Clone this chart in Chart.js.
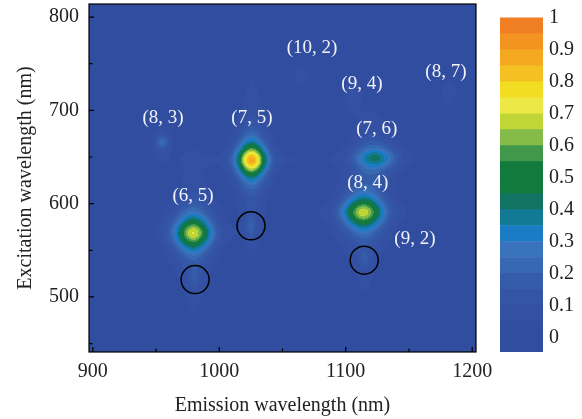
<!DOCTYPE html>
<html>
<head>
<meta charset="utf-8">
<script src="https://cdn.jsdelivr.net/npm/chart.js@4.4.1/dist/chart.umd.min.js"></script>
<style>
  html, body { margin: 0; padding: 0; background: #fff; }
  #wrap { position: relative; width: 582px; height: 419px; }
  #map { position: absolute; left: 0; top: 0; }
  #bar { position: absolute; left: 490px; top: 0; }
</style>
</head>
<body>
<div id="wrap">
  <canvas id="map" width="582" height="419"></canvas>
  <canvas id="bar" width="92" height="419"></canvas>
</div>
<script>
// PL peaks (emission nm, excitation nm, normalised intensity, widths nm)
const peakEm  = [979.4, 1025.6, 1113.8, 1123.9, 954.9, 1105, 1182, 1065, 1025, 981, 1115];
const peakEx  = [568.5, 646.6, 590.6, 649.0, 666.0, 717, 719, 737, 576, 519, 540];
const peakAmp = [0.62, 0.78, 0.60, 0.34, 0.22, 0.08, 0.07, 0.06, 0.13, 0.09, 0.09];
const peakWx  = [15.4, 12.3, 16.9, 16.5, 6, 6, 6, 6, 4, 5, 5];
const peakWy  = [18.5, 17.8, 17.7, 13.5, 8, 12, 12, 10, 12, 10, 10];

// chirality labels and where they sit
const labelText = ['(10, 2)', '(9, 4)', '(8, 7)', '(8, 3)', '(7, 5)', '(7, 6)', '(6, 5)', '(8, 4)', '(9, 2)'];
const labelEm   = [1073.3, 1112.8, 1179.2, 955.5, 1025.8, 1124.6, 979.2, 1117.5, 1154.7];
const labelEx   = [766.7, 728.0, 740.9, 691.4, 691.4, 679.6, 608.6, 622.6, 562.4];

// circled features
const circleEm = [1025.1, 980.9, 1114.6];
const circleEx = [576.3, 518.6, 539.4];

// colour levels (lower edge of each band) and colours
const levelEdges = [-0.05, 0, 0.05, 0.1, 0.15, 0.2, 0.25, 0.3, 0.35, 0.4, 0.45, 0.5, 0.55, 0.6, 0.65, 0.7, 0.75, 0.8, 0.85, 0.9, 0.95, 1.0];
const levelColors = ['#314d9f', '#314d9f', '#3350a2', '#3455a5', '#355ca9', '#3768b2', '#3973bb', '#1a7cc4',
  '#137a96', '#127363', '#137a3e', '#137a3e', '#41984a', '#85bb49', '#bfd636', '#ece846', '#f2dd22',
  '#f5c023', '#f5a921', '#f39421', '#f07f24'];
const barTicks = [0, 0.1, 0.2, 0.3, 0.4, 0.5, 0.6, 0.7, 0.8, 0.9, 1];

const serif = "'Liberation Serif', 'DejaVu Serif', serif";

function hexRgb(h) {
  return [parseInt(h.slice(1, 3), 16), parseInt(h.slice(3, 5), 16), parseInt(h.slice(5, 7), 16)];
}
const levelRgb = levelColors.map(hexRgb);

function intensity(em, ex) {
  let v = 0.02;
  for (let i = 0; i < peakEm.length; i++) {
    const u = (em - peakEm[i]) / peakWx[i];
    const w = (ex - peakEx[i]) / peakWy[i];
    // gaussian across emission, heavier tail along excitation
    v += peakAmp[i] * Math.exp(-u * u) * Math.pow(1 + w * w / 1.5, -1.5);
    // faint streaks along both directions
    if (peakAmp[i] > 0.3) {
      v += peakAmp[i] * 0.05 * Math.exp(-u * u / 0.3) * Math.exp(-Math.abs(w) / 7);
      v += peakAmp[i] * 0.05 * Math.exp(-w * w / 0.3) * Math.exp(-Math.abs(u) / 5);
    }
  }
  return v;
}

function levelIndex(v) {
  let k = 0;
  for (let i = 0; i < levelEdges.length - 1; i++) if (v >= levelEdges[i]) k = i;
  return k;
}

const heatmap = {
  id: 'heatmap',
  beforeDatasetsDraw(chart) {
    const { ctx, chartArea: a, scales: { x, y } } = chart;
    const w = Math.round(a.right - a.left), h = Math.round(a.bottom - a.top);
    const img = ctx.createImageData(w, h);
    for (let j = 0; j < h; j++) {
      const ex = y.getValueForPixel(a.top + j + 0.5);
      for (let i = 0; i < w; i++) {
        const em = x.getValueForPixel(a.left + i + 0.5);
        const c = levelRgb[levelIndex(intensity(em, ex))];
        const p = (j * w + i) * 4;
        img.data[p] = c[0]; img.data[p + 1] = c[1]; img.data[p + 2] = c[2]; img.data[p + 3] = 255;
      }
    }
    ctx.putImageData(img, Math.round(a.left), Math.round(a.top));
  },
  afterDatasetsDraw(chart) {
    const { ctx, chartArea: a, scales: { x, y } } = chart;
    // chirality labels
    const meta = chart.getDatasetMeta(1);
    ctx.save();
    ctx.fillStyle = 'rgba(255,255,255,0.93)';
    ctx.font = '19px ' + serif;
    ctx.textAlign = 'center';
    ctx.textBaseline = 'middle';
    meta.data.forEach((pt, i) => ctx.fillText(labelText[i], pt.x, pt.y));
    ctx.restore();
    // frame and inward ticks
    ctx.save();
    ctx.strokeStyle = '#000';
    ctx.lineWidth = 1.2;
    ctx.strokeRect(a.left, a.top, a.right - a.left, a.bottom - a.top);
    ctx.beginPath();
    x.ticks.forEach(t => {
      const px = x.getPixelForValue(t.value);
      const len = t.value % 100 === 0 ? 5 : 3.5;
      ctx.moveTo(px, a.bottom); ctx.lineTo(px, a.bottom - len);
    });
    y.ticks.forEach(t => {
      const py = y.getPixelForValue(t.value);
      const len = t.value % 100 === 0 ? 5 : 3.5;
      ctx.moveTo(a.left, py); ctx.lineTo(a.left + len, py);
    });
    ctx.stroke();
    ctx.restore();
  }
};

new Chart(document.getElementById('map'), {
  type: 'scatter',
  data: {
    datasets: [
      {
        data: circleEm.map((e, i) => ({ x: e, y: circleEx[i] })),
        pointRadius: 14, pointHoverRadius: 14,
        borderColor: '#000', borderWidth: 1.5,
        backgroundColor: 'rgba(0,0,0,0)'
      },
      {
        data: labelEm.map((e, i) => ({ x: e, y: labelEx[i] })),
        pointRadius: 0, pointHoverRadius: 0
      }
    ]
  },
  options: {
    responsive: false,
    animation: false,
    events: [],
    layout: { autoPadding: false, padding: { left: 0, top: 4, right: 106, bottom: 0 } },
    plugins: { legend: { display: false }, tooltip: { enabled: false } },
    scales: {
      x: {
        type: 'linear', min: 897, max: 1203,
        afterFit(s) { s.height = 67; s.paddingLeft = 0; s.paddingRight = 0; },
        grid: { display: false, drawTicks: false },
        border: { display: false },
        ticks: {
          stepSize: 50, includeBounds: false, padding: 8, maxRotation: 0, autoSkip: false,
          color: '#222', font: { family: serif, size: 20 },
          callback: v => (v % 100 === 0 ? String(v) : '')
        },
        title: {
          display: true, text: 'Emission wavelength (nm)', color: '#222',
          font: { family: serif, size: 20 }, padding: { top: 0, bottom: 1 }
        }
      },
      y: {
        type: 'linear', min: 441, max: 814,
        afterFit(s) { s.width = 89; s.paddingTop = 0; s.paddingBottom = 0; },
        grid: { display: false, drawTicks: false },
        border: { display: false },
        ticks: {
          stepSize: 50, includeBounds: false, padding: 10, autoSkip: false,
          color: '#222', font: { family: serif, size: 20 },
          callback: v => (v % 100 === 0 ? String(v) : '')
        },
        title: {
          display: true, text: 'Excitation wavelength (nm)', color: '#222',
          font: { family: serif, size: 20 }, padding: { top: 14, bottom: 0 }
        }
      }
    }
  },
  plugins: [heatmap]
});

// colour bar
const bands = levelColors.map((c, i) => ({
  data: [[levelEdges[i], levelEdges[i + 1]]],
  backgroundColor: c,
  borderWidth: 0,
  grouped: false,
  barPercentage: 1,
  categoryPercentage: 1
}));

new Chart(document.getElementById('bar'), {
  type: 'bar',
  data: { labels: [''], datasets: bands },
  options: {
    responsive: false,
    animation: false,
    events: [],
    layout: { autoPadding: false, padding: { left: 10, top: 16, right: 0, bottom: 67 } },
    plugins: { legend: { display: false }, tooltip: { enabled: false } },
    scales: {
      x: { display: false },
      y: {
        position: 'right', min: -0.046, max: 1.006,
        afterFit(s) { s.width = 39; s.paddingTop = 0; s.paddingBottom = 0; },
        grid: { display: false, drawTicks: false },
        border: { display: false },
        afterBuildTicks(s) { s.ticks = barTicks.map(v => ({ value: v })); },
        ticks: {
          padding: 6, color: '#222', font: { family: serif, size: 20 },
          callback: v => String(Math.round(v * 10) / 10)
        }
      }
    }
  }
});
</script>
</body>
</html>
